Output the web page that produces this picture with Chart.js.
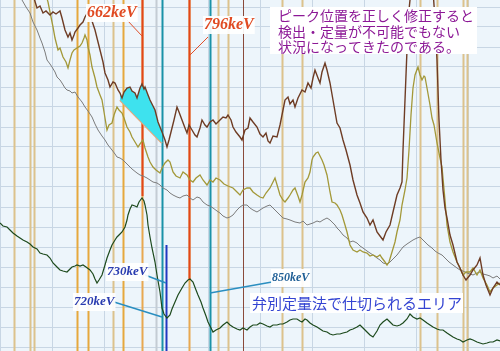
<!DOCTYPE html>
<html>
<head>
<meta charset="utf-8">
<script src="https://cdn.jsdelivr.net/npm/chart.js@4.4.1/dist/chart.umd.min.js"></script>
<style>
  html, body { margin: 0; padding: 0; background: #eef5fb; }
  #wrap { width: 500px; height: 351px; }
</style>
</head>
<body>
<div id="wrap"><canvas id="spec" width="500" height="351"></canvas></div>
<script>
// スペクトル（チャンネル / カウント）
const brownCh = [33,37,40,43,46,50,53,56,60,62,65,68,70,72,74,75,78,80,83,85,88,90,93,95,98,100,103,105,108,110,113,115,118,120,122,124,127,130,132,135,137,140,142,144,145,148,150,153,155,158,160,162,165,167,169,171,174,177,179,182,185,187,189,192,195,197,200,202,205,207,210,213,216,220,223,226,228,231,233,236,240,242,245,248,250,253,257,260,263,266,268,270,273,277,280,283,285,288,290,293,295,298,302,305,308,311,313,315,318,320,322,325,327,330,333,337,340,343,346,350,353,357,360,363,367,370,373,377,380,383,386,390,393,397,400,402,403,405,407,409,411,433,435,437,439,441,443,445,447,450,453,457,460,463,466,470,473,477,480,483,486,490,493,497,500];
const brownCnt = [356,343,345,338,340,336,339,337,340,333,321,314,318,311,316,319,323,326,329,334,339,336,327,321,309,301,289,278,271,264,269,268,261,258,253,259,263,264,260,258,253,263,267,262,264,256,251,245,241,229,224,219,211,204,211,219,231,244,239,231,223,218,226,221,216,214,223,231,226,224,229,231,227,231,234,233,236,231,224,219,214,211,221,223,233,229,224,217,214,218,210,208,215,214,226,241,251,254,247,251,244,253,261,259,268,263,273,281,273,268,279,288,281,268,251,228,223,211,201,186,171,156,148,139,133,126,131,119,115,111,119,126,139,156,163,169,201,251,301,341,361,361,331,291,231,191,161,143,133,116,106,89,83,76,71,76,81,86,93,76,66,56,63,69,66];

const oliveCh = [46,48,50,53,55,58,60,63,66,68,70,72,74,77,80,82,84,85,87,88,90,92,95,97,100,102,104,107,109,112,114,117,119,122,124,127,130,132,135,138,140,143,145,148,150,153,156,160,162,165,168,170,173,176,180,183,187,190,193,196,200,203,207,210,213,216,220,224,228,233,237,240,243,247,250,253,257,260,263,266,270,273,275,278,280,283,285,288,290,293,295,298,300,302,305,308,310,312,313,316,318,320,322,324,327,330,332,335,337,340,342,345,347,350,353,357,360,363,367,370,373,377,380,382,385,387,389,392,395,397,400,402,405,407,409,411,413,415,418,420,422,424,425,427,430,432,434,437,440,442,445,447,450,453,457,460,463,466,470,473,477,480,483,487,490,493,497,500];
const oliveCnt = [356,349,339,324,313,301,303,294,289,283,291,298,301,303,305,308,313,316,311,304,296,284,273,264,256,251,239,221,226,228,236,244,241,238,233,224,219,214,209,204,207,211,203,194,189,184,181,178,183,188,191,189,179,175,173,179,176,171,169,173,176,171,166,171,169,173,171,167,165,163,159,156,161,163,163,159,156,154,153,158,163,169,173,163,156,151,149,153,156,161,163,155,149,156,169,173,179,191,194,198,199,195,191,186,176,159,149,148,146,141,136,126,119,106,101,99,101,99,98,95,96,94,96,93,89,86,89,99,109,119,131,146,161,173,201,236,263,276,284,276,271,275,274,263,246,233,226,208,193,184,151,126,109,99,89,83,76,79,79,83,76,81,73,66,59,63,66,68];

const grayCh = [20,22,26,30,33,37,40,42,45,47,50,52,55,57,60,62,65,67,70,72,75,78,82,85,88,92,95,98,102,105,108,112,115,117,120,123,126,128,132,137,140,143,147,150,153,157,160,163,167,170,173,177,180,183,187,190,193,197,200,203,207,210,213,217,220,223,227,230,233,237,240,243,247,250,253,257,260,263,267,270,273,277,280,283,287,290,295,300,303,307,310,313,317,320,323,327,330,332,335,337,340,343,347,350,353,357,360,363,367,370,373,377,380,383,387,390,393,397,400,403,407,410,413,417,420,423,425,428,432,435,438,442,445,449,453,457,460,463,467,470,473,477,480,483,487,490,493,497,500];
const grayCnt = [356,351,344,338,329,321,313,308,299,291,287,284,279,274,271,268,263,261,260,258,259,254,249,244,240,234,227,221,215,211,206,201,197,194,193,191,188,186,182,178,176,175,173,171,169,168,166,163,161,158,156,154,153,155,156,153,151,154,153,149,146,145,143,140,138,135,133,134,136,141,144,146,146,143,141,139,141,143,145,146,143,139,136,133,132,131,129,128,130,126,127,128,130,129,131,133,131,129,126,123,120,116,113,109,110,108,105,103,100,98,96,93,91,88,87,89,92,96,100,104,107,109,111,113,114,111,109,106,103,100,98,96,93,89,86,83,81,80,78,77,76,78,79,77,76,75,73,75,72];

const greenCh = [0,3,7,10,13,17,20,23,27,30,33,37,40,43,47,50,53,57,60,63,67,70,72,75,77,80,83,86,90,93,95,97,99,102,105,107,110,112,115,117,120,122,125,127,128,130,132,135,137,139,142,144,145,147,148,150,152,155,157,160,162,164,167,170,172,175,178,182,185,188,190,193,196,198,201,203,206,208,211,213,216,220,223,227,230,233,237,240,243,247,250,253,257,260,263,267,270,273,277,280,283,287,290,293,297,300,302,305,307,310,313,317,320,323,327,330,333,337,340,343,347,350,353,357,360,363,367,370,373,377,380,383,387,390,393,397,400,403,407,410,413,417,420,423,427,430,433,437,440,443,447,450,453,457,460,463,467,470,473,477,480,483,487,490,493,497,500];
const greenCnt = [128,125,124,121,118,115,113,111,109,107,104,102,98,97,96,93,88,84,81,80,79,82,84,85,86,85,86,84,81,77,72,68,71,76,86,93,101,106,111,114,117,119,124,131,136,142,146,145,144,149,153,150,146,136,126,114,103,89,76,59,43,37,33,36,42,49,56,63,68,71,72,69,61,56,49,43,35,29,23,19,21,23,26,29,26,24,22,21,23,21,24,26,26,28,27,25,24,26,26,27,27,29,31,32,32,30,29,32,31,28,26,24,22,20,19,17,16,17,17,18,19,21,22,24,26,23,19,16,14,20,26,29,32,29,26,25,26,28,32,37,34,32,33,31,28,26,24,22,21,21,18,16,14,12,11,9,11,12,11,9,8,7,8,9,9,11,10];

// ピーク・関心領域のマーカー（チャンネル）
const tanLines = [14, 30, 34, 113, 218, 228, 282, 302, 420, 437, 463, 467];
const orangeLines = [77, 88, 123];
const peakLines = [142, 189];        // 662keV, 796keV
const peakLineEnds = [155, 71];      // 赤線の下端（カウント）
const tealLines = [162, 210];        // 720keV, 850keV
const blueLine = 166;                // 730keV
const blueLineTop = 106;
const grayLine = 156;
const brownLine = 243;

// 662keV ピークのベースライン
const baseCh = [120, 162];
const baseCnt = [251, 208];

const peakCh = brownCh.filter(c => c >= baseCh[0] && c <= baseCh[1]);
const peakCnt = brownCnt.filter((v, i) => brownCh[i] >= baseCh[0] && brownCh[i] <= baseCh[1]);

const pts = (xs, ys) => xs.map((x, i) => ({ x: x, y: ys[i] }));

const markerPlugin = {
  id: 'markers',
  beforeDraw(chart) {
    const ctx = chart.ctx;
    ctx.save();
    ctx.fillStyle = '#edf5fb';
    ctx.fillRect(0, 0, chart.width, chart.height);
    ctx.restore();
  },
  beforeDatasetsDraw(chart) {
    const ctx = chart.ctx, xs = chart.scales.x, ys = chart.scales.y;
    const vline = (ch, color, w, c0, c1) => {
      const px = Math.round(xs.getPixelForValue(ch)) + 0.5;
      ctx.beginPath();
      ctx.strokeStyle = color;
      ctx.lineWidth = w;
      ctx.moveTo(px, ys.getPixelForValue(c1 === undefined ? ys.max : c1));
      ctx.lineTo(px, ys.getPixelForValue(c0 === undefined ? ys.min : c0));
      ctx.stroke();
    };
    ctx.save();
    vline(grayLine, '#c4ccd4', 2);
    tanLines.forEach(c => vline(c, '#dcc28c', 2));
    orangeLines.forEach(c => vline(c, '#e6a83c', 2));
    vline(brownLine, '#8a4a3a', 1);
    peakLines.forEach((c, i) => {
      vline(c, '#e8a850', 2);
      vline(c, '#e2461a', 2, peakLineEnds[i]);
    });
    tealLines.forEach(c => vline(c, '#1a92a8', 2));
    vline(blueLine, '#2238c0', 2, undefined, blueLineTop);
    ctx.restore();
  },
  afterDatasetsDraw(chart) {
    const ctx = chart.ctx, xs = chart.scales.x, ys = chart.scales.y;
    const X = v => xs.getPixelForValue(v), Y = v => ys.getPixelForValue(v);
    const leader = (a, b, color, w) => {
      ctx.beginPath();
      ctx.strokeStyle = color;
      ctx.lineWidth = w;
      ctx.moveTo(X(a[0]), Y(a[1]));
      ctx.lineTo(X(b[0]), Y(b[1]));
      ctx.stroke();
    };
    const label = (text, ch, cnt, color, font, pad) => {
      ctx.font = font;
      ctx.textBaseline = 'middle';
      const w = ctx.measureText(text).width;
      ctx.fillStyle = 'rgba(255,255,255,0.92)';
      ctx.fillRect(X(ch) - pad, Y(cnt) - 9, w + pad * 2, 18);
      ctx.fillStyle = color;
      ctx.fillText(text, X(ch), Y(cnt));
    };
    ctx.save();
    // keV ラベル
    leader([127, 331], [142, 315], '#e0502a', 1);
    leader([208, 314], [190, 296], '#e0502a', 1);
    leader([145, 76], [166, 68], '#2a8ec0', 1.5);
    leader([114, 49], [162, 34], '#2a8ec0', 1.5);
    leader([272, 69], [210, 58], '#2a8ec0', 1.5);
    label('662keV', 87, 338, '#e04a22', 'italic bold 16px "Liberation Serif"', 1);
    label('796keV', 204, 326, '#e04a22', 'italic bold 16px "Liberation Serif"', 1);
    label('730keV', 107, 79, '#2a3cb0', 'italic bold 13px "Liberation Serif"', 1);
    label('720keV', 74, 49, '#2a3cb0', 'italic bold 13px "Liberation Serif"', 1);
    label('850keV', 272, 73, '#1f5f96', 'italic bold 12px "Liberation Serif"', 1);

    // コメント
    ctx.fillStyle = '#ffffff';
    ctx.fillRect(X(270), Y(344), X(477) - X(270), Y(297) - Y(344));
    ctx.fillStyle = '#8c1896';
    ctx.font = '14px "Noto Sans CJK JP"';
    ctx.textBaseline = 'middle';
    ctx.fillText('ピーク位置を正しく修正すると', X(278), Y(335));
    ctx.fillText('検出・定量が不可能でもない', X(278), Y(319));
    ctx.fillText('状況になってきたのである。', X(278), Y(304));

    ctx.fillStyle = '#ffffff';
    ctx.fillRect(X(250), Y(58), X(463) - X(250), Y(38) - Y(58));
    ctx.fillStyle = '#3444d2';
    ctx.font = '15px "Noto Sans CJK JP"';
    ctx.fillText('弁別定量法で仕切られるエリア', X(252), Y(48));
    ctx.restore();
  }
};

const gridTicks = (from, to, step) => {
  const t = [];
  for (let v = from; v <= to; v += step) t.push({ value: v });
  return t;
};

new Chart(document.getElementById('spec'), {
  type: 'line',
  data: {
    datasets: [
      { data: pts(brownCh, brownCnt), borderColor: '#6e3c24', borderWidth: 1.4 },
      { data: pts(oliveCh, oliveCnt), borderColor: '#a39838', borderWidth: 1.3 },
      { data: pts(grayCh, grayCnt), borderColor: '#7c7c7c', borderWidth: 1 },
      { data: pts(greenCh, greenCnt), borderColor: '#1d4a1d', borderWidth: 1.2 },
      { data: pts(peakCh, peakCnt), borderColor: 'rgba(0,0,0,0)', borderWidth: 0,
        backgroundColor: '#3ee2ee', fill: '+1' },
      { data: pts(baseCh, baseCnt), borderColor: '#e8a67a', borderWidth: 2 }
    ]
  },
  options: {
    responsive: false,
    animation: false,
    layout: { padding: 0 },
    elements: { point: { radius: 0 }, line: { tension: 0 } },
    plugins: { legend: { display: false }, tooltip: { enabled: false } },
    scales: {
      x: {
        type: 'linear', min: 0, max: 500,
        afterBuildTicks: s => { s.ticks = gridTicks(0, 500, 52); },
        ticks: { display: false },
        grid: { color: '#c8d6e4', drawTicks: false },
        border: { display: false }
      },
      y: {
        type: 'linear', min: 0, max: 351,
        afterBuildTicks: s => { s.ticks = gridTicks(4, 351, 20); },
        ticks: { display: false },
        grid: { color: '#c8d6e4', drawTicks: false },
        border: { display: false }
      }
    }
  },
  plugins: [markerPlugin]
});
</script>
</body>
</html>
